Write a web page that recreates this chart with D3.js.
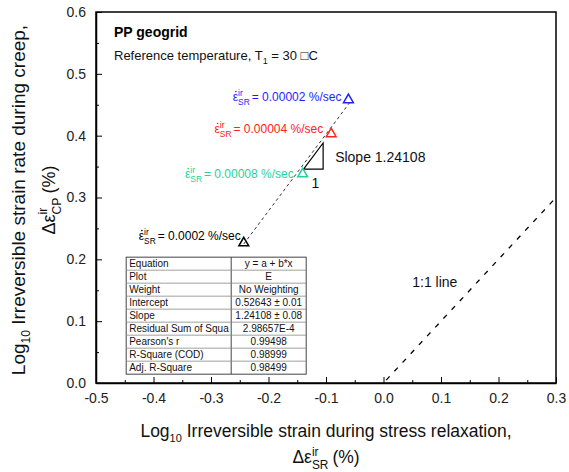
<!DOCTYPE html>
<html>
<head>
	<meta charset="UTF-8"/>
	<title>PP geogrid slope</title>
	<style type="text/css">
		body { margin: 0; background: #fff; }
		svg { display: block; font-family: 'Liberation Sans', Arial, sans-serif; }
		.axis path, .axis line { stroke: #000; }
		.axis text { font-size: 14px; fill: #222; }
		.tbl text { font-size: 10px; fill: #111; }
	</style>
	<script src="https://d3js.org/d3.v7.min.js"></script>
</head>
<body>
	<svg width="569" height="472"></svg>
	<script>
		const rates = ['0.00002', '0.00004', '0.00008', '0.0002'];
		const colors = ['#1e1eff', '#ff2020', '#1fd39a', '#000000'];
		const xVals = [-0.061, -0.091, -0.1405, -0.243];
		const yVals = [0.458, 0.403, 0.338, 0.2265];

		// linear fit
		const fitA = 0.52643;
		const fitB = 1.24108;
		const fitRange = [-0.243, -0.058];

		// 1:1 line
		const oneToOne = [0, 0.3];

		// slope triangle (x start, x end, y base)
		const slopeTri = [-0.139, -0.105, 0.346];

		const xTicks = [-0.5, -0.4, -0.3, -0.2, -0.1, 0.0, 0.1, 0.2, 0.3];
		const yTicks = [0.0, 0.1, 0.2, 0.3, 0.4, 0.5, 0.6];

		const tableRows = ['Equation', 'Plot', 'Weight', 'Intercept', 'Slope',
			'Residual Sum of Squa', "Pearson's r", 'R-Square (COD)', 'Adj. R-Square'];
		const tableVals = ['y = a + b*x', 'E', 'No Weighting', '0.52643 \u00b1 0.01',
			'1.24108 \u00b1 0.08', '2.98657E-4', '0.99498', '0.98999', '0.98499'];

		const svg = d3.select('svg');
		const margin = {left: 96, top: 12, right: 13, bottom: 89};
		const width = 569 - margin.left - margin.right;
		const height = 472 - margin.top - margin.bottom;

		const x = d3.scaleLinear().domain([-0.5, 0.3]).range([0, width]);
		const y = d3.scaleLinear().domain([0, 0.6]).range([height, 0]);
		const fmt = d => d3.format('.1f')(d).replace('\u2212', '-');

		const chart = svg.append('g')
			.attr('transform', `translate(${margin.left}, ${margin.top})`);

		// minor ticks
		const xMinor = d3.range(-0.45, 0.3, 0.1);
		const yMinor = d3.range(0.05, 0.6, 0.1);

		chart.append('g').attr('class', 'axis')
			.attr('transform', `translate(0, ${height})`)
			.call(d3.axisBottom(x).tickValues(xMinor).tickSize(-3).tickFormat(''))
			.select('.domain').remove();
		chart.append('g').attr('class', 'axis')
			.call(d3.axisLeft(y).tickValues(yMinor).tickSize(-3).tickFormat(''))
			.select('.domain').remove();

		const xAxis = chart.append('g').attr('class', 'axis')
			.attr('transform', `translate(0, ${height})`)
			.call(d3.axisBottom(x).tickValues(xTicks).tickSizeInner(-6).tickSizeOuter(0)
				.tickPadding(10).tickFormat(fmt));
		const yAxis = chart.append('g').attr('class', 'axis')
			.call(d3.axisLeft(y).tickValues(yTicks).tickSizeInner(-6).tickSizeOuter(0)
				.tickPadding(10).tickFormat(fmt));
		xAxis.select('.domain').attr('stroke-width', 1.5);
		yAxis.select('.domain').attr('stroke-width', 1.5);

		// frame
		chart.append('rect')
			.attr('width', width).attr('height', height)
			.attr('fill', 'none').attr('stroke', '#000').attr('stroke-width', 1.5);

		// 1:1 line
		chart.append('line')
			.attr('x1', x(oneToOne[0])).attr('y1', y(oneToOne[0]))
			.attr('x2', x(oneToOne[1])).attr('y2', y(oneToOne[1]))
			.attr('stroke', '#000').attr('stroke-width', 1.3)
			.attr('stroke-dasharray', '5,7').attr('stroke-dashoffset', -4);
		chart.append('text')
			.attr('x', x(0.05)).attr('y', y(0.155))
			.attr('font-size', 14).attr('fill', '#111')
			.text('1:1 line');

		// fit line
		chart.append('line')
			.attr('x1', x(fitRange[0])).attr('y1', y(fitA + fitB * fitRange[0]))
			.attr('x2', x(fitRange[1])).attr('y2', y(fitA + fitB * fitRange[1]))
			.attr('stroke', '#333').attr('stroke-width', 1)
			.attr('stroke-dasharray', '3,3');

		// slope triangle
		const ty1 = slopeTri[2] + fitB * (slopeTri[1] - slopeTri[0]);
		chart.append('path')
			.attr('d', `M${x(slopeTri[0])},${y(slopeTri[2])}L${x(slopeTri[1])},${y(slopeTri[2])}L${x(slopeTri[1])},${y(ty1)}Z`)
			.attr('fill', 'none').attr('stroke', '#000').attr('stroke-width', 1.2);
		chart.append('text')
			.attr('x', x(slopeTri[1]) + 12).attr('y', y((slopeTri[2] + ty1) / 2) + 6)
			.attr('font-size', 14).attr('fill', '#111')
			.text('Slope 1.24108');
		chart.append('text')
			.attr('x', x((slopeTri[0] + slopeTri[1]) / 2) + 2).attr('y', y(slopeTri[2]) + 19)
			.attr('text-anchor', 'middle')
			.attr('font-size', 14).attr('fill', '#111')
			.text('1');

		// triangle markers
		const tri = d3.symbol().type(d3.symbolTriangle).size(42);
		chart.selectAll('.pt')
			.data(xVals)
			.enter()
			.append('path')
			.attr('class', 'pt')
			.attr('d', tri)
			.attr('transform', (d, i) => `translate(${x(d)}, ${y(yVals[i])})`)
			.attr('fill', 'none')
			.attr('stroke', (d, i) => colors[i])
			.attr('stroke-width', 1.5);

		// strain rate labels: dotted epsilon with stacked ir / SR
		function epsLabel(parent, px, py, sub, rest, color, fs, anchorEnd) {
			const g = parent.append('g');
			const e = g.append('text').attr('x', 0).attr('y', 0)
				.attr('font-size', fs).attr('fill', color).text('\u03b5');
			const w0 = e.node().getComputedTextLength();
			g.append('circle').attr('cx', w0 / 2 + 0.5).attr('cy', -fs * 0.78)
				.attr('r', 0.8).attr('fill', color);
			const s1 = g.append('text').attr('x', w0).attr('y', -fs * 0.42)
				.attr('font-size', fs * 0.7).attr('fill', color).text('ir');
			const s2 = g.append('text').attr('x', w0).attr('y', fs * 0.36)
				.attr('font-size', fs * 0.7).attr('fill', color).text(sub);
			const w1 = Math.max(s1.node().getComputedTextLength(), s2.node().getComputedTextLength());
			const r = g.append('text').attr('x', w0 + w1 + 2).attr('y', 0)
				.attr('font-size', fs).attr('fill', color).text(rest);
			const total = w0 + w1 + 2 + r.node().getComputedTextLength();
			g.attr('transform', `translate(${anchorEnd ? px - total : px}, ${py})`);
			return g;
		}

		const labelDx = [-7, -8, -9, -3];
		const labelDy = [1, -1, 4, -3];
		rates.forEach((r, i) => {
			epsLabel(chart, x(xVals[i]) + labelDx[i], y(yVals[i]) + labelDy[i], 'SR',
				'= ' + r + ' %/sec', colors[i], 12, true);
		});

		// stats table
		const tbl = chart.append('g').attr('class', 'tbl')
			.attr('transform', `translate(${x(-0.4475)}, ${y(0.2035)})`);
		const rowH = 13, col1 = 105, col2 = 75;
		tbl.append('rect').attr('width', col1 + col2).attr('height', rowH * tableRows.length)
			.attr('fill', '#fff').attr('stroke', '#444').attr('stroke-width', 1);
		tbl.append('line').attr('x1', col1).attr('x2', col1)
			.attr('y1', 0).attr('y2', rowH * tableRows.length)
			.attr('stroke', '#444');
		tableRows.forEach((t, i) => {
			if (i > 0) {
				tbl.append('line').attr('x1', 0).attr('x2', col1 + col2)
					.attr('y1', i * rowH).attr('y2', i * rowH)
					.attr('stroke', '#888').attr('stroke-width', 0.8);
			}
			tbl.append('text').attr('x', 3).attr('y', i * rowH + 10).text(t);
			tbl.append('text').attr('x', col1 + col2 / 2).attr('y', i * rowH + 10)
				.attr('text-anchor', 'middle').text(tableVals[i]);
		});

		// header notes
		chart.append('text').attr('x', 18).attr('y', 25)
			.attr('font-size', 14).attr('font-weight', 'bold').attr('fill', '#000')
			.text('PP geogrid');
		const ref = chart.append('text').attr('x', 18).attr('y', 48)
			.attr('font-size', 13).attr('fill', '#111');
		ref.append('tspan').text('Reference temperature, T');
		ref.append('tspan').attr('font-size', 9).attr('dy', 4).text('1');
		ref.append('tspan').attr('dy', -4).text(' = 30 \u25a1C');

		// x-axis title
		const xt = svg.append('text')
			.attr('x', margin.left + width / 2).attr('y', 437)
			.attr('text-anchor', 'middle').attr('font-size', 17.5).attr('fill', '#111');
		xt.append('tspan').text('Log');
		xt.append('tspan').attr('font-size', 11).attr('dy', 5).text('10');
		xt.append('tspan').attr('dy', -5).text(' Irreversible strain during stress relaxation,');

		function deltaTitle(parent, sub, fs) {
			const g = parent.append('g');
			const e = g.append('text').attr('x', 0).attr('y', 0)
				.attr('font-size', fs).attr('fill', '#111').text('\u0394\u03b5');
			const w0 = e.node().getComputedTextLength();
			const s1 = g.append('text').attr('x', w0).attr('y', -fs * 0.42)
				.attr('font-size', fs * 0.68).attr('fill', '#111').text('ir');
			const s2 = g.append('text').attr('x', w0).attr('y', fs * 0.34)
				.attr('font-size', fs * 0.68).attr('fill', '#111').text(sub);
			const w1 = Math.max(s1.node().getComputedTextLength(), s2.node().getComputedTextLength());
			const r = g.append('text').attr('x', w0 + w1 + 4).attr('y', 0)
				.attr('font-size', fs).attr('fill', '#111').text('(%)');
			const total = w0 + w1 + 4 + r.node().getComputedTextLength();
			return {g, total};
		}

		const dx = deltaTitle(svg, 'SR', 17.5);
		dx.g.attr('transform', `translate(${margin.left + width / 2 - dx.total / 2}, 463)`);

		// y-axis title
		const yMid = 200;
		const yt = svg.append('text')
			.attr('transform', `translate(25, ${yMid}) rotate(-90)`)
			.attr('text-anchor', 'middle').attr('font-size', 19).attr('fill', '#111');
		yt.append('tspan').text('Log');
		yt.append('tspan').attr('font-size', 12).attr('dy', 5).text('10');
		yt.append('tspan').attr('dy', -5).text(' Irreversible strain rate during creep,');

		const dy = deltaTitle(svg, 'CP', 18);
		dy.g.attr('transform', `translate(55, ${yMid + dy.total / 2}) rotate(-90)`);
	</script>
</body>
</html>
